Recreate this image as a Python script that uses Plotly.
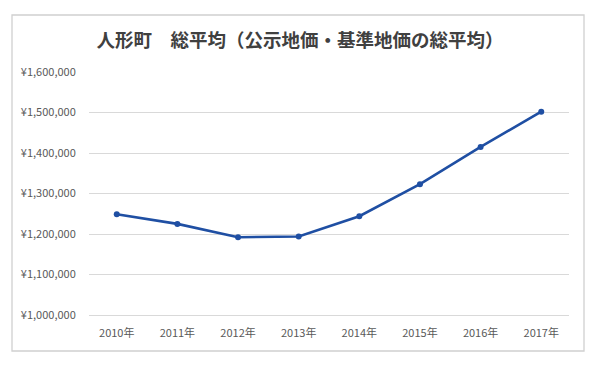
import plotly.graph_objects as go

years = ["2010年", "2011年", "2012年", "2013年", "2014年", "2015年", "2016年", "2017年"]
values = [1249000, 1225000, 1192000, 1194000, 1244000, 1323000, 1415000, 1502000]
y_ticks = [1000000, 1100000, 1200000, 1300000, 1400000, 1500000, 1600000]
y_tick_labels = ["¥{:,}".format(v) for v in y_ticks]
title_text = "人形町　総平均（公示地価・基準地価の総平均）"

font_family = "Noto Sans CJK JP, Noto Sans, sans-serif"

# page body has an 8px default margin; compensate
W, H = 591, 357
L, T, R, B = 81, 64, 30, 50
pw, ph = W - L - R, H - T - B

fig = go.Figure()
fig.add_trace(go.Scatter(
    x=years, y=values, mode="lines+markers",
    line=dict(color="#1f4fa3", width=2.6),
    marker=dict(color="#1f4fa3", size=6),
    showlegend=False,
))

fig.update_layout(
    width=W, height=H,
    margin=dict(l=L, r=R, t=T, b=B),
    paper_bgcolor="white", plot_bgcolor="white",
    title=dict(text=title_text, x=(300 - 8) / W, xanchor="center", y=1 - (41 - 8) / H, yanchor="middle",
               font=dict(family=font_family, size=18.5, color="#404040", weight="bold")),
    font=dict(family=font_family, size=11, color="#595959"),
    shapes=[dict(type="rect", xref="paper", yref="paper",
                 x0=(12 - 89) / pw, x1=(584 - 89) / pw,
                 y0=-(351 - 315) / ph, y1=(315 - 15) / ph,
                 line=dict(color="#d0d0d0", width=1.3), fillcolor="rgba(0,0,0,0)", layer="below")],
)
fig.update_xaxes(
    showgrid=False, showline=True, linecolor="#d9d9d9", linewidth=1,
    ticks="outside", ticklen=8, tickcolor="rgba(0,0,0,0)",
    tickfont=dict(size=11, color="#595959"),
)
fig.update_yaxes(
    range=[1000000, 1600000], tickvals=y_ticks, ticktext=y_tick_labels,
    showgrid=True, gridcolor="#d9d9d9", gridwidth=1, zeroline=False,
    ticks="outside", ticklen=10, tickcolor="rgba(0,0,0,0)",
    tickfont=dict(size=11, color="#595959"),
)

fig.write_html("out.html")
